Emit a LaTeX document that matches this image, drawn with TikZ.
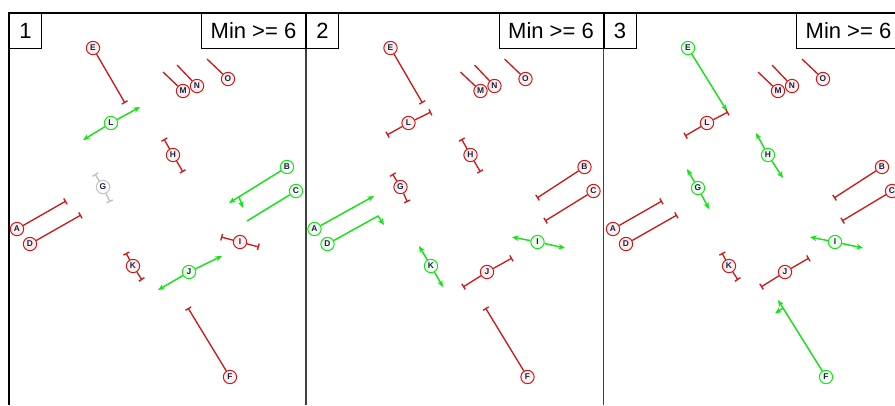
\documentclass[tikz,border=0pt]{standalone}
\usepackage{fontspec}
\setmainfont{Liberation Sans}
\usetikzlibrary{arrows.meta}
\definecolor{lred}{RGB}{204,26,26}
\definecolor{lgrn}{RGB}{24,226,24}
\definecolor{lgray}{RGB}{192,192,192}
\definecolor{ltxt}{RGB}{28,32,64}
\tikzset{
  pt/.style={circle,minimum size=10pt,inner sep=0pt,line width=0.75pt,text=ltxt,
    font=\bfseries\fontsize{6.3}{7}\selectfont},
  ptr/.style={pt,draw=lred,fill=lred!7},
  ptg/.style={pt,draw=lgrn,fill=lgrn!7},
  ptk/.style={pt,draw=lgray,fill=white},
  rl/.style={draw=lred,line width=1pt},
  gl/.style={draw=lgrn,line width=1.1pt},
  kl/.style={draw=lgray,line width=1pt},
  tbar/.style={-{Bar[width=5pt,line width=1pt]}},
  tarr/.style={-{Stealth[length=5pt,width=4.2pt]}},
  numbox/.style={draw=black,line width=0.75pt,anchor=north west,inner sep=0pt,
    minimum width=24pt,minimum height=26.25pt,font=\fontsize{16.5}{19}\selectfont},
  minbox/.style={draw=black,line width=0.75pt,anchor=north east,inner sep=0pt,
    minimum width=78pt,minimum height=26.25pt,font=\fontsize{16.5}{19}\selectfont},
}
\begin{document}
\begin{tikzpicture}[x=0.75pt,y=-0.75pt]
\useasboundingbox (0,0) rectangle (895,405);
\fill[white] (0,0) rectangle (895,405);

% panel frame
\draw[line width=1.1pt,black!75] (306,13) -- (306,405);
\draw[line width=1.1pt,black!75] (603.5,13) -- (603.5,405);
\draw[line width=1.6pt] (9,13) -- (9,405);
\draw[line width=1.8pt] (8.2,13) -- (895,13);

% headers
\node[numbox] (h1) at (9,13) {1};
\node[minbox] (m1) at (306,13) {Min >= 6};
\node[numbox] (h2) at (306,13) {2};
\node[minbox] (m2) at (603.5,13) {Min >= 6};
\node[numbox] (h3) at (603.5,13) {3};
\node[minbox] (m3) at (901,13) {Min >= 6};

% ---------------- panel 1 ----------------
\begin{scope}
\node[ptr] (E1) at (93,48) {E};
\coordinate (E1t) at (125,103);
\draw[rl,tbar] (E1) -- (E1t);
\node[ptr] (M1) at (183,91) {M};
\coordinate (M1t) at (163,72);
\draw[rl] (M1) -- (M1t);
\node[ptr] (N1) at (197,86) {N};
\coordinate (N1t) at (177,65);
\draw[rl] (N1) -- (N1t);
\node[ptr] (O1) at (228,79) {O};
\coordinate (O1t) at (207,59);
\draw[rl] (O1) -- (O1t);
\node[ptg] (L1) at (111,123) {L};
\coordinate (L1a) at (83,140);
\coordinate (L1b) at (140,107);
\draw[gl,tarr] (L1) -- (L1a);
\draw[gl,tarr] (L1) -- (L1b);
\node[ptr] (H1) at (173,155) {H};
\coordinate (H1a) at (164,139);
\coordinate (H1b) at (183,172);
\draw[rl,tbar] (H1) -- (H1a);
\draw[rl,tbar] (H1) -- (H1b);
\node[ptk] (G1) at (103,187) {G};
\coordinate (G1a) at (95,174);
\coordinate (G1b) at (110,202);
\draw[kl,tbar] (G1) -- (G1a);
\draw[kl,tbar] (G1) -- (G1b);
\node[ptr] (A1) at (17,229) {A};
\coordinate (A1t) at (66,201);
\draw[rl,tbar] (A1) -- (A1t);
\node[ptr] (D1) at (30,244) {D};
\coordinate (D1t) at (81,215);
\draw[rl,tbar] (D1) -- (D1t);
\node[ptg] (B1) at (287,167) {B};
\coordinate (B1t) at (229,203);
\draw[gl,tarr] (B1) -- (B1t);
\coordinate (B1k) at (239,197);
\coordinate (B1kt) at (243,208);
\draw[gl,tarr] (B1k) -- (B1kt);
\node[ptg] (C1) at (296,191) {C};
\coordinate (C1t) at (247,221);
\draw[gl] (C1) -- (C1t);
\node[ptr] (I1) at (240,242) {I};
\coordinate (I1a) at (221,237);
\coordinate (I1b) at (259,247);
\draw[rl,tbar] (I1) -- (I1a);
\draw[rl,tbar] (I1) -- (I1b);
\node[ptr] (K1) at (133,266) {K};
\coordinate (K1a) at (126,253);
\coordinate (K1b) at (142,280);
\draw[rl,tbar] (K1) -- (K1a);
\draw[rl,tbar] (K1) -- (K1b);
\node[ptg] (J1) at (189,272) {J};
\coordinate (J1a) at (158,290);
\coordinate (J1b) at (222,256);
\draw[gl,tarr] (J1) -- (J1a);
\draw[gl,tarr] (J1) -- (J1b);
\node[ptr] (F1) at (230,377) {F};
\coordinate (F1t) at (188,308);
\draw[rl,tbar] (F1) -- (F1t);
\end{scope}

% ---------------- panel 2 ----------------
\begin{scope}[shift={(297.5,0)}]
\node[ptr] (E2) at (93,48) {E};
\coordinate (E2t) at (125,103);
\draw[rl,tbar] (E2) -- (E2t);
\node[ptr] (M2) at (183,91) {M};
\coordinate (M2t) at (163,72);
\draw[rl] (M2) -- (M2t);
\node[ptr] (N2) at (197,86) {N};
\coordinate (N2t) at (177,65);
\draw[rl] (N2) -- (N2t);
\node[ptr] (O2) at (228,79) {O};
\coordinate (O2t) at (207,59);
\draw[rl] (O2) -- (O2t);
\node[ptr] (L2) at (111,123) {L};
\coordinate (L2a) at (89.5,135);
\coordinate (L2b) at (133.5,112);
\draw[rl,tbar] (L2) -- (L2a);
\draw[rl,tbar] (L2) -- (L2b);
\node[ptr] (H2) at (173,155) {H};
\coordinate (H2a) at (164,139);
\coordinate (H2b) at (183,172);
\draw[rl,tbar] (H2) -- (H2a);
\draw[rl,tbar] (H2) -- (H2b);
\node[ptr] (G2) at (103,187) {G};
\coordinate (G2a) at (95,174);
\coordinate (G2b) at (110,202);
\draw[rl,tbar] (G2) -- (G2a);
\draw[rl,tbar] (G2) -- (G2b);
\node[ptg] (A2) at (17,229) {A};
\coordinate (A2t) at (76.5,196);
\draw[gl,tarr] (A2) -- (A2t);
\node[ptg] (D2) at (30,244) {D};
\coordinate (D2m) at (80.5,216);
\coordinate (D2t) at (86.5,225);
\draw[gl,tarr] (D2) -- (D2m) -- (D2t);
\node[ptr] (B2) at (287,167) {B};
\coordinate (B2t) at (239.5,198);
\draw[rl,tbar] (B2) -- (B2t);
\node[ptr] (C2) at (296,191) {C};
\coordinate (C2t) at (247.5,221);
\draw[rl,tbar] (C2) -- (C2t);
\node[ptg] (I2) at (240,242) {I};
\coordinate (I2a) at (214.5,237);
\coordinate (I2b) at (267.5,248);
\draw[gl,tarr] (I2) -- (I2a);
\draw[gl,tarr] (I2) -- (I2b);
\node[ptg] (K2) at (133.5,266) {K};
\coordinate (K2a) at (121.5,246);
\coordinate (K2b) at (145.5,287);
\draw[gl,tarr] (K2) -- (K2a);
\draw[gl,tarr] (K2) -- (K2b);
\node[ptr] (J2) at (189.5,272) {J};
\coordinate (J2a) at (165.5,287);
\coordinate (J2b) at (214.5,258);
\draw[rl,tbar] (J2) -- (J2a);
\draw[rl,tbar] (J2) -- (J2b);
\node[ptr] (F2) at (230,377) {F};
\coordinate (F2t) at (188,308);
\draw[rl,tbar] (F2) -- (F2t);
\end{scope}

% ---------------- panel 3 ----------------
\begin{scope}[shift={(595,0)}]
\node[ptg] (E3) at (93,48) {E};
\coordinate (E3t) at (132,111);
\draw[gl,tarr] (E3) -- (E3t);
\node[ptr] (M3) at (183,91) {M};
\coordinate (M3t) at (163,72);
\draw[rl] (M3) -- (M3t);
\node[ptr] (N3) at (197,86) {N};
\coordinate (N3t) at (177,65);
\draw[rl] (N3) -- (N3t);
\node[ptr] (O3) at (228,79) {O};
\coordinate (O3t) at (207,59);
\draw[rl] (O3) -- (O3t);
\node[ptr] (L3) at (112,123) {L};
\coordinate (L3a) at (90,136);
\coordinate (L3b) at (133,112);
\draw[rl,tbar] (L3) -- (L3a);
\draw[rl,tbar] (L3) -- (L3b);
\node[ptg] (H3) at (173,155) {H};
\coordinate (H3a) at (161,133);
\coordinate (H3b) at (188,178);
\draw[gl,tarr] (H3) -- (H3a);
\draw[gl,tarr] (H3) -- (H3b);
\node[ptg] (G3) at (103,188) {G};
\coordinate (G3a) at (92,169);
\coordinate (G3b) at (114,209);
\draw[gl,tarr] (G3) -- (G3a);
\draw[gl,tarr] (G3) -- (G3b);
\node[ptr] (A3) at (18,229) {A};
\coordinate (A3t) at (67,201);
\draw[rl,tbar] (A3) -- (A3t);
\node[ptr] (D3) at (31,244) {D};
\coordinate (D3t) at (82,215);
\draw[rl,tbar] (D3) -- (D3t);
\node[ptr] (B3) at (287,167) {B};
\coordinate (B3t) at (239,198);
\draw[rl,tbar] (B3) -- (B3t);
\node[ptr] (C3) at (297,191) {C};
\coordinate (C3t) at (247,221);
\draw[rl,tbar] (C3) -- (C3t);
\node[ptg] (I3) at (240,242) {I};
\coordinate (I3a) at (215,237);
\coordinate (I3b) at (268,248);
\draw[gl,tarr] (I3) -- (I3a);
\draw[gl,tarr] (I3) -- (I3b);
\node[ptr] (K3) at (134,266) {K};
\coordinate (K3a) at (127,253);
\coordinate (K3b) at (143,280);
\draw[rl,tbar] (K3) -- (K3a);
\draw[rl,tbar] (K3) -- (K3b);
\node[ptr] (J3) at (190,272) {J};
\coordinate (J3a) at (166,287);
\coordinate (J3b) at (214,258);
\draw[rl,tbar] (J3) -- (J3a);
\draw[rl,tbar] (J3) -- (J3b);
\node[ptg] (F3) at (231,377) {F};
\coordinate (F3t) at (183,300);
\draw[gl,tarr] (F3) -- (F3t);
\coordinate (F3k) at (188,308);
\coordinate (F3kt) at (180,313.5);
\draw[gl,tarr] (F3k) -- (F3kt);
\end{scope}
\end{tikzpicture}
\end{document}
